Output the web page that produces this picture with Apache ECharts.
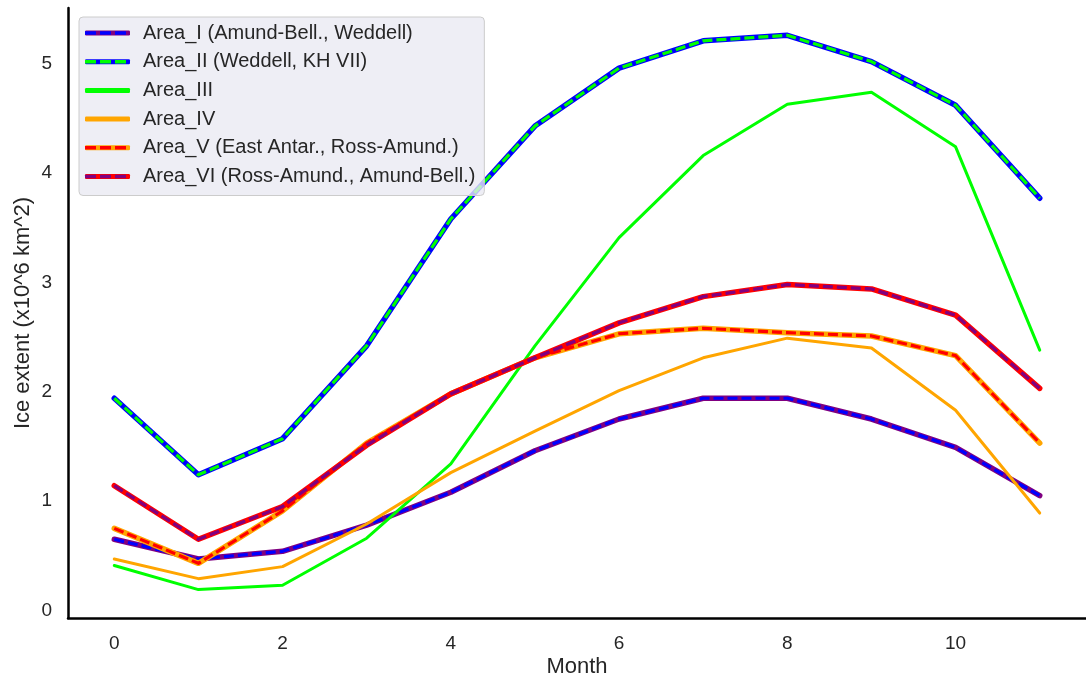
<!DOCTYPE html>
<html>
<head>
<meta charset="utf-8">
<script src="https://cdn.jsdelivr.net/npm/echarts@6/dist/echarts.min.js"></script>
<style>
  html, body { margin: 0; padding: 0; background: #ffffff; }
  #chart { width: 1086px; height: 682px; }
</style>
</head>
<body>
<div id="chart"></div>
<script>
// ---- data ----
const months = [0, 1, 2, 3, 4, 5, 6, 7, 8, 9, 10, 11];
const areaNames = [
  'Area_I (Amund-Bell., Weddell)',
  'Area_II (Weddell, KH VII)',
  'Area_III',
  'Area_IV',
  'Area_V (East Antar., Ross-Amund.)',
  'Area_VI (Ross-Amund., Amund-Bell.)'
];
const areaI   = [0.65, 0.47, 0.54, 0.78, 1.08, 1.46, 1.75, 1.94, 1.94, 1.75, 1.49, 1.05];
const areaII  = [1.94, 1.24, 1.57, 2.42, 3.58, 4.43, 4.96, 5.21, 5.26, 5.02, 4.62, 3.77];
const areaIII = [0.41, 0.19, 0.23, 0.66, 1.34, 2.42, 3.41, 4.16, 4.63, 4.74, 4.24, 2.38];
const areaIV  = [0.47, 0.29, 0.40, 0.79, 1.26, 1.64, 2.01, 2.31, 2.49, 2.40, 1.83, 0.89];
const areaV   = [0.75, 0.43, 0.91, 1.53, 1.98, 2.31, 2.53, 2.58, 2.54, 2.51, 2.33, 1.53];
const areaVI  = [1.14, 0.65, 0.95, 1.51, 1.98, 2.31, 2.63, 2.87, 2.98, 2.94, 2.70, 2.03];
const xTicks = [0, 2, 4, 6, 8, 10];
const yTicks = [0, 1, 2, 3, 4, 5];
const xLabel = 'Month';
const yLabel = 'Ice extent (x10^6 km^2)';

// ---- styles ----
const FONT = "'Liberation Sans', Arial, sans-serif";
const TXT = '#262626';
const areaValues = [areaI, areaII, areaIII, areaIV, areaV, areaVI];
const styles = [
  { base: '#800080', dash: '#0000ff', w: 5.5 },
  { base: '#0000ff', dash: '#00ff00', w: 5.5 },
  { base: '#00ff00', dash: null, w: 3 },
  { base: '#ffa500', dash: null, w: 3 },
  { base: '#ffa500', dash: '#ff0000', w: 5.5 },
  { base: '#ff0000', dash: '#800080', w: 5.5 }
];
const DASH_SUFFIX = '\u200b';
const dashIcon = 'path://M0,0h11v3.5h-11z M15,0h11v3.5h-11z M30,0h11v3.5h-11z M45,0h0v3.5h0z';

function pairs(vals) { return months.map((m, i) => [m, vals[i]]); }

const series = [];
areaNames.forEach((name, i) => {
  const s = styles[i];
  series.push({
    name: name,
    type: 'line',
    data: pairs(areaValues[i]),
    symbol: 'none',
    silent: true,
    lineStyle: { color: s.base, width: s.w, cap: 'round', join: 'round' },
    itemStyle: { color: s.base }
  });
  series.push({
    name: name + DASH_SUFFIX,
    type: 'line',
    data: s.dash ? pairs(areaValues[i]) : [],
    symbol: 'none',
    silent: true,
    lineStyle: { color: s.dash || 'rgba(0,0,0,0)', width: 3.2, type: [10, 4], cap: 'butt', join: 'round' },
    itemStyle: { color: s.dash || 'rgba(0,0,0,0)' }
  });
});

const legendCommon = {
  orient: 'vertical',
  left: 79,
  top: 17,
  itemWidth: 45,
  itemGap: 8.7,
  selectedMode: false,
  padding: [6, 9, 9, 6],
  textStyle: { fontFamily: FONT, fontSize: 20, color: TXT, padding: [0, 0, 0, 8] }
};

const option = {
  animation: false,
  backgroundColor: '#ffffff',
  grid: { left: 68, right: 0, top: 8, bottom: 64, containLabel: false, outerBoundsMode: 'none' },
  xAxis: {
    type: 'value',
    min: -0.55,
    max: 11.55,
    name: xLabel,
    nameLocation: 'middle',
    nameGap: 38,
    nameMoveOverlap: false,
    nameTextStyle: { fontFamily: FONT, fontSize: 22, color: TXT },
    axisLine: { show: true, onZero: false, lineStyle: { color: '#000000', width: 2.5 } },
    axisTick: { show: false },
    splitLine: { show: false },
    axisLabel: { fontFamily: FONT, fontSize: 19, color: TXT, margin: 16, customValues: xTicks }
  },
  yAxis: {
    type: 'value',
    min: -0.07,
    max: 5.51,
    name: yLabel,
    nameLocation: 'middle',
    nameGap: 34,
    nameMoveOverlap: false,
    nameTextStyle: { fontFamily: FONT, fontSize: 22, color: TXT },
    axisLine: { show: true, onZero: false, lineStyle: { color: '#000000', width: 2.5 } },
    axisTick: { show: false },
    splitLine: { show: false },
    axisLabel: { fontFamily: FONT, fontSize: 19, color: TXT, margin: 16, customValues: yTicks }
  },
  legend: [
    Object.assign({}, legendCommon, {
      itemHeight: 5,
      icon: 'roundRect',
      backgroundColor: 'rgba(234,234,242,0.8)',
      borderColor: '#cccccc',
      borderWidth: 1,
      borderRadius: 4,
      data: areaNames.map((n, i) => ({ name: n, itemStyle: { color: styles[i].base, borderWidth: 0 } }))
    }),
    Object.assign({}, legendCommon, {
      itemHeight: 3.5,
      icon: dashIcon,
      backgroundColor: 'transparent',
      borderWidth: 0,
      textStyle: Object.assign({}, legendCommon.textStyle, { color: 'rgba(0,0,0,0)' }),
      data: areaNames.map((n, i) => ({
        name: n + DASH_SUFFIX,
        itemStyle: { color: styles[i].dash || 'rgba(0,0,0,0)', borderWidth: 0 }
      }))
    })
  ],
  series: series
};

const chart = echarts.init(document.getElementById('chart'), null, { renderer: 'canvas' });
chart.setOption(option);
</script>
</body>
</html>
